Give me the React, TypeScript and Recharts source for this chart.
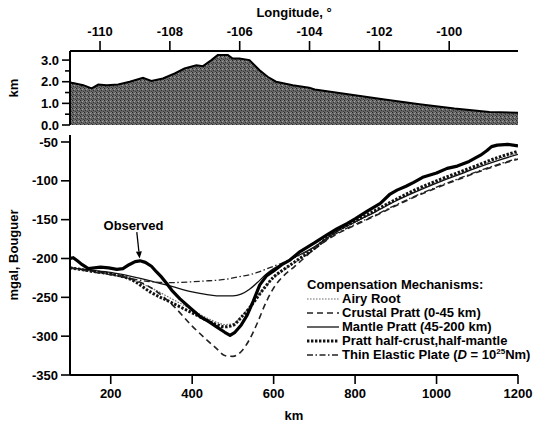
import {
  AreaChart,
  Area,
  LineChart,
  Line,
  XAxis,
  YAxis,
  Legend,
  ReferenceLine,
  ReferenceDot,
} from "recharts";

const FONT = '"Liberation Sans", Arial, Helvetica, sans-serif';

// Topography along the profile (longitude in degrees, elevation in km)
const topoLon = [
  -110.86, -110.81, -110.48, -110.24, -110.05, -109.81, -109.48, -109.15,
  -108.77, -108.53, -108.2, -107.86, -107.58, -107.24, -107.05, -106.81,
  -106.63, -106.34, -106.2, -106.01, -105.72, -105.43, -105.2, -104.96,
  -104.48, -104.01, -103.85, -102.85, -101.85, -100.85, -99.85, -98.85,
  -98.03,
];
const topoElev = [
  1.97, 1.95, 1.84, 1.69, 1.87, 1.84, 1.87, 2.0, 2.18, 2.04, 2.15, 2.38, 2.61,
  2.76, 2.72, 3.0, 3.23, 3.23, 3.07, 3.07, 3.0, 2.53, 2.23, 2.0, 1.84, 1.72,
  1.64, 1.41, 1.18, 0.96, 0.76, 0.6, 0.57,
];
const lonTicks = [-110, -108, -106, -104, -102, -100];
const elevTicks = [0, 0.5, 1, 1.5, 2, 2.5, 3];

// Bouguer gravity, observed profile
const observedKm = [
  100, 108, 118, 130, 145, 160, 175, 195, 215, 230, 245, 260, 272, 285, 300,
  312, 325, 337, 350, 370, 400, 420, 440, 460, 480, 493, 505, 520, 535, 550,
  566, 583, 600, 620, 640, 665, 700, 730, 755, 780, 800, 830, 862, 886, 903,
  925, 944, 968, 1000, 1026, 1051, 1080, 1108, 1124, 1135, 1149, 1175, 1200,
];
const observedMgal = [
  -200, -199, -203, -208, -213, -212, -211, -212, -214, -213, -208, -204, -203,
  -205, -210, -217, -224, -232, -241, -252, -266, -275, -281, -288, -295, -299,
  -295, -286, -273, -255, -234, -222, -216, -208, -202, -191, -180, -170, -162,
  -155, -149, -139, -129, -117, -112, -107, -102, -95, -90, -84, -81, -75, -67,
  -61, -56, -54, -53, -55,
];

// Model anomalies for each compensation mechanism
const modelKm = [
  100, 150, 200, 250, 300, 350, 400, 430, 460, 480, 500, 520, 540, 560, 580,
  600, 625, 650, 700, 750, 800, 850, 900, 950, 1000, 1050, 1100, 1150, 1200,
];
const airyRoot = [
  -212, -216, -220, -227, -238, -252, -266, -275, -282, -285, -284, -275, -263,
  -249, -236, -225, -215, -206, -188, -167, -153, -139, -125, -113, -102, -92,
  -82, -72, -64,
];
const crustalPratt = [
  -212, -216, -220, -226, -238, -259, -287, -302, -316, -325, -326, -320, -305,
  -283, -258, -238, -222, -211, -188, -170, -157, -145, -132, -120, -109, -99,
  -89, -80, -72,
];
const mantlePratt = [
  -212, -215, -218, -223, -229, -236, -243, -246, -248, -248, -248, -246, -240,
  -231, -221, -213, -206, -199, -185, -167, -153, -140, -126, -114, -103, -93,
  -83, -74, -66,
];
const halfPratt = [
  -212, -216, -220, -227, -244, -257, -270, -278, -285, -288, -286, -276, -264,
  -250, -236, -224, -214, -205, -187, -166, -152, -138, -124, -111, -100, -90,
  -80, -70, -62,
];
const elasticPlate = [
  -212, -217, -221, -226, -230, -231, -230, -229, -228, -227, -225, -223, -221,
  -218, -214, -210, -205, -199, -186, -169, -156, -144, -131, -119, -108, -98,
  -88, -79, -71,
];
const distTicks = [200, 400, 600, 800, 1000, 1200];
const gravTicks = [-350, -300, -250, -200, -150, -100, -50];

const topoRows = topoLon.map((lon, i) => ({ lon, elev: topoElev[i] }));
const observedRows = observedKm.map((km, i) => ({ km, mgal: observedMgal[i] }));
const modelRows = modelKm.map((km, i) => ({
  km,
  airy: airyRoot[i],
  crustal: crustalPratt[i],
  mantle: mantlePratt[i],
  half: halfPratt[i],
  plate: elasticPlate[i],
}));

const mechanisms = [
  { key: "airy", name: "Airy Root", stroke: "#707070", width: 1.2, dash: "1.6 1.4" },
  { key: "crustal", name: "Crustal Pratt (0-45 km)", stroke: "#222", width: 1.6, dash: "6 4" },
  { key: "mantle", name: "Mantle Pratt (45-200 km)", stroke: "#111", width: 1.3, dash: undefined },
  { key: "half", name: "Pratt half-crust,half-mantle", stroke: "#111", width: 3, dash: "2.4 1.6" },
  { key: "plate", name: "Thin Elastic Plate (D = 10^25 Nm)", stroke: "#222", width: 1.3, dash: "6 2.5 1.5 2.5" },
];

const tickStyle = { fill: "#000", fontSize: 13, fontFamily: FONT, fontWeight: 700 };
const axisLine = { stroke: "#000", strokeWidth: 2 };

function Caption({ caption, px, py, vertical }: any) {
  return (
    <text
      x={px}
      y={py}
      transform={vertical ? `rotate(-90, ${px}, ${py})` : undefined}
      textAnchor="middle"
      dominantBaseline="central"
      fontSize={13}
      fontWeight={700}
      fontFamily={FONT}
      fill="#000"
    >
      {caption}
    </text>
  );
}

// elevation ticks: labelled every km, short unlabelled ticks between
function ElevTick(props: any) {
  const { x, y, payload } = props;
  const axisX = x + 11;
  const major = Number.isInteger(payload.value);
  return (
    <g>
      <line x1={axisX - (major ? 8 : 5)} y1={y} x2={axisX} y2={y} stroke="#000" strokeWidth={1.6} />
      {major && (
        <text x={x} y={y} textAnchor="end" dominantBaseline="central" {...tickStyle}>
          {payload.value.toFixed(1)}
        </text>
      )}
    </g>
  );
}

function Arrow(props: any) {
  const { x1, y1, x2, y2 } = props;
  if (x1 == null) return null;
  const a = Math.atan2(y2 - y1, x2 - x1);
  const bx = x2 - 7 * Math.cos(a);
  const by = y2 - 7 * Math.sin(a);
  const s = Math.sin(a);
  const c = Math.cos(a);
  return (
    <g>
      <line x1={x1} y1={y1} x2={bx} y2={by} stroke="#000" strokeWidth={1.3} />
      <polygon
        points={`${x2},${y2} ${bx + 3 * s},${by - 3 * c} ${bx - 3 * s},${by + 3 * c}`}
        fill="#000"
      />
    </g>
  );
}

function legendName(key: string, name: string) {
  if (key !== "plate") return name;
  return (
    <>
      Thin Elastic Plate (<i>D</i> = 10<sup style={{ fontSize: 8, verticalAlign: 5, lineHeight: 0 }}>25</sup>Nm)
    </>
  );
}

function MechanismLegend() {
  return (
    <div
      style={{
        fontFamily: FONT,
        fontSize: 13,
        fontWeight: 700,
        lineHeight: "14px",
        color: "#000",
        whiteSpace: "nowrap",
      }}
    >
      <div>Compensation Mechanisms:</div>
      {mechanisms.map((m) => (
        <div key={m.key} style={{ display: "flex", alignItems: "center" }}>
          <svg width={32} height={14} style={{ marginRight: 3 }}>
            <line x1={0} y1={7} x2={32} y2={7} stroke={m.stroke} strokeWidth={m.width} strokeDasharray={m.dash} />
          </svg>
          <span>{legendName(m.key, m.name)}</span>
        </div>
      ))}
    </div>
  );
}

export default function App() {
  return (
    <div
      style={{
        position: "absolute",
        left: 0,
        top: 0,
        width: 550,
        height: 423,
        background: "#fff",
        fontFamily: FONT,
      }}
    >
      <div style={{ position: "absolute", left: 0, top: 0 }}>
        <AreaChart width={550} height={140} data={topoRows} margin={{ top: 0, right: 32, left: 10, bottom: 15 }}>
          <defs>
            <pattern id="stipple" width="4" height="4" patternUnits="userSpaceOnUse">
              <rect width="4" height="4" fill="#666" />
              <rect x="0" y="0" width="1" height="1" fill="#262626" />
              <rect x="2" y="1" width="1" height="1" fill="#a0a0a0" />
              <rect x="1" y="2" width="1" height="1" fill="#303030" />
              <rect x="3" y="3" width="1" height="1" fill="#3a3a3a" />
              <rect x="3" y="0" width="1" height="1" fill="#8a8a8a" />
            </pattern>
          </defs>
          <XAxis
            dataKey="lon"
            type="number"
            orientation="top"
            height={51}
            domain={[-110.86, -98.03]}
            ticks={lonTicks}
            interval={0}
            allowDataOverflow
            tick={tickStyle}
            tickSize={10}
            tickMargin={5}
            axisLine={axisLine}
            tickLine={{ stroke: "#000", strokeWidth: 1.6 }}
            label={<Caption caption="Longitude, °" px={294} py={12} />}
          />
          <YAxis
            type="number"
            width={60}
            domain={[0, 3.42]}
            ticks={elevTicks}
            interval={0}
            allowDataOverflow
            tickSize={8}
            tickMargin={3}
            tickLine={false}
            axisLine={axisLine}
            tick={<ElevTick />}
            label={<Caption caption="km" px={13} py={88} vertical />}
          />
          <Area
            type="linear"
            dataKey="elev"
            stroke="#000"
            strokeWidth={2}
            fill="url(#stipple)"
            fillOpacity={1}
            baseValue={0}
            isAnimationActive={false}
          />
        </AreaChart>
      </div>
      <div style={{ position: "absolute", left: 0, top: 130 }}>
        <LineChart width={550} height={293} data={modelRows} margin={{ top: 5, right: 32, left: 10, bottom: 0 }}>
          <XAxis
            dataKey="km"
            type="number"
            height={48}
            domain={[100, 1200]}
            ticks={distTicks}
            interval={0}
            allowDataOverflow
            tick={tickStyle}
            tickSize={9}
            tickMargin={5}
            axisLine={axisLine}
            tickLine={{ stroke: "#000", strokeWidth: 1.6 }}
            label={<Caption caption="km" px={294} py={285} />}
          />
          <YAxis
            type="number"
            width={60}
            domain={[-350, -41]}
            ticks={gravTicks}
            interval={0}
            allowDataOverflow
            tick={tickStyle}
            tickSize={9}
            tickMargin={3}
            axisLine={axisLine}
            tickLine={{ stroke: "#000", strokeWidth: 1.6 }}
            label={<Caption caption="mgal, Bouguer" px={13} py={125} vertical />}
          />
          {mechanisms.map((m) => (
            <Line
              key={m.key}
              type="monotone"
              dataKey={m.key}
              name={m.name}
              stroke={m.stroke}
              strokeWidth={m.width}
              strokeDasharray={m.dash}
              dot={false}
              activeDot={false}
              isAnimationActive={false}
            />
          ))}
          <Line
            data={observedRows}
            type="linear"
            dataKey="mgal"
            name="Observed"
            legendType="none"
            stroke="#000"
            strokeWidth={3.2}
            strokeLinejoin="round"
            dot={false}
            activeDot={false}
            isAnimationActive={false}
          />
          <ReferenceLine
            segment={[
              { x: 264, y: -166 },
              { x: 271, y: -200 },
            ]}
            shape={<Arrow />}
          />
          <ReferenceDot
            x={256}
            y={-157}
            r={0}
            fill="none"
            stroke="none"
            label={{ value: "Observed", position: "center", fill: "#000", fontSize: 13, fontWeight: 700, fontFamily: FONT }}
          />
          <Legend
            layout="horizontal"
            verticalAlign="middle"
            align="center"
            content={<MechanismLegend />}
            wrapperStyle={{ position: "absolute", left: 307, top: 148, width: "auto" }}
          />
        </LineChart>
      </div>
    </div>
  );
}
